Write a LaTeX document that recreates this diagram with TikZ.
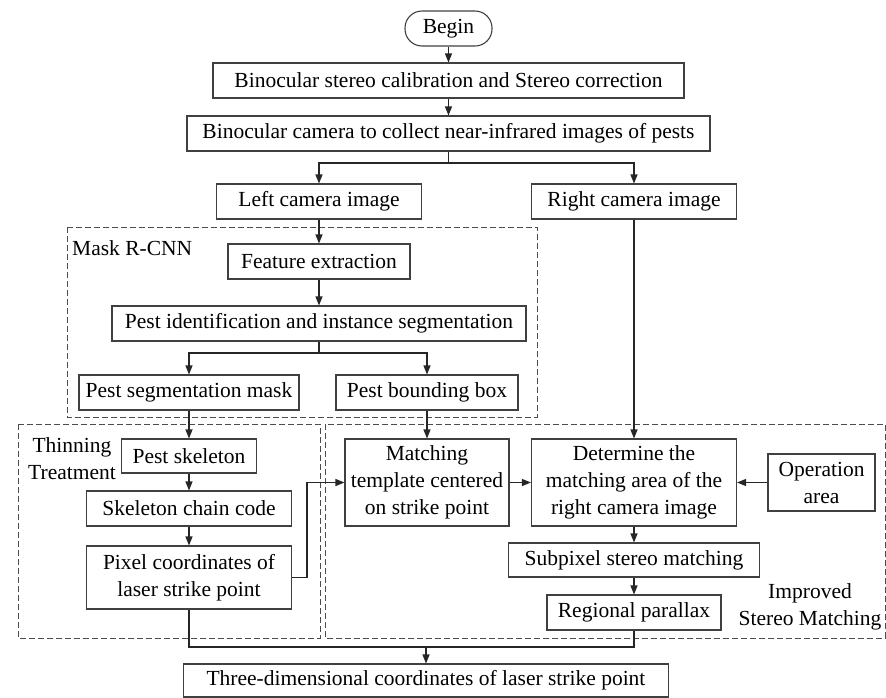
\documentclass[tikz,border=0pt]{standalone}
\usepackage{fontspec}
\setmainfont{Liberation Serif}
\usetikzlibrary{arrows.meta}
\begin{document}
\begin{tikzpicture}[x=1pt,y=-1pt,
    box/.style={draw=black!75,line width=1.1pt,inner sep=0pt,align=center,
        font=\fontsize{21.5}{27}\selectfont},
    arr/.style={-{Triangle[length=9pt,width=7pt]},line width=1.2pt,black!85},
    group/.style={draw=black!70,dash pattern=on 6pt off 3pt,line width=0.8pt},
    lbl/.style={align=center,inner sep=0pt,font=\fontsize{21.5}{27}\selectfont}]
    \useasboundingbox (0,0) rectangle (886,697);

    % Dashed groups
    \draw[group] (67,227) rectangle (537,417);
    \draw[group] (18,424) rectangle (320,638);
    \draw[group] (325,424) rectangle (885,638);
    \node[lbl,anchor=west] (masklbl) at (72,248) {Mask R-CNN};
    \node[lbl] (thinlbl) at (72,458.5) {Thinning\\Treatment};
    \node[lbl] (stereolbl) at (810,606.5) {Improved\\Stereo Matching};

    % Top chain
    \node[box,rounded corners=17pt,minimum width=87pt,minimum height=35pt] (begin) at (448.5,28.5) {Begin};
    \node[box,minimum width=471pt,minimum height=35pt] (calib) at (448.5,80.5) {Binocular stereo calibration and Stereo correction};
    \node[box,minimum width=523pt,minimum height=35pt] (collect) at (448.5,133.5) {Binocular camera to collect near-infrared images of pests};
    \node[box,minimum width=205pt,minimum height=35pt] (left) at (319,201.5) {Left camera image};
    \node[box,minimum width=205pt,minimum height=35pt] (right) at (634,201.5) {Right camera image};

    % Mask R-CNN
    \node[box,minimum width=182pt,minimum height=35pt] (feat) at (319,261.5) {Feature extraction};
    \node[box,minimum width=414pt,minimum height=35pt] (ident) at (319,323.5) {Pest identification and instance segmentation};
    \node[box,minimum width=220pt,minimum height=35pt] (segmask) at (189,392.5) {Pest segmentation mask};
    \node[box,minimum width=182pt,minimum height=35pt] (bbox) at (427,392.5) {Pest bounding box};

    % Thinning treatment
    \node[box,minimum width=135pt,minimum height=34pt] (skel) at (189,456) {Pest skeleton};
    \node[box,minimum width=205pt,minimum height=35pt] (chain) at (189,508.5) {Skeleton chain code};
    \node[box,minimum width=205pt,minimum height=63pt] (pixel) at (189,577.5) {Pixel coordinates of\\laser strike point};

    % Improved stereo matching
    \node[box,minimum width=164pt,minimum height=87pt] (match) at (427,482.5) {Matching\\template centered\\on strike point};
    \node[box,minimum width=205pt,minimum height=87pt] (determ) at (634,482.5) {Determine the\\matching area of the\\right camera image};
    \node[box,minimum width=107pt,minimum height=57pt] (oper) at (821.5,482.5) {Operation\\area};
    \node[box,minimum width=251pt,minimum height=34pt] (subpix) at (634,560) {Subpixel stereo matching};
    \node[box,minimum width=174pt,minimum height=35pt] (parallax) at (634,612.5) {Regional parallax};

    % Result
    \node[box,minimum width=485pt,minimum height=33pt] (final) at (426,680.5) {Three-dimensional coordinates of laser strike point};

    % Connectors
    \draw[arr] (begin.south) -- (calib.north);
    \draw[arr] (calib.south) -- (collect.north);
    \coordinate (split1) at (448.5,163);
    \draw[line width=1.2pt,black!85] (collect.south) -- (split1);
    \draw[arr] (split1) -| (left.north);
    \draw[arr] (split1) -| (right.north);
    \draw[arr] (left.south) -- (feat.north);
    \draw[arr] (feat.south) -- (ident.north);
    \coordinate (split2) at (319,353);
    \draw[line width=1.2pt,black!85] (ident.south) -- (split2);
    \draw[arr] (split2) -| (segmask.north);
    \draw[arr] (split2) -| (bbox.north);
    \draw[arr] (segmask.south) -- (skel.north);
    \draw[arr] (skel.south) -- (chain.north);
    \draw[arr] (chain.south) -- (pixel.north);
    \draw[arr] (bbox.south) -- (match.north);
    \draw[arr] (right.south) -- (determ.north);
    \draw[arr] (match.east) -- (determ.west);
    \draw[arr] (oper.west) -- (determ.east);
    \draw[arr] (determ.south) -- (subpix.north);
    \draw[arr] (subpix.south) -- (parallax.north);
    \coordinate (bend) at (307,577.5);
    \draw[arr] (pixel.east) -- (bend) |- (match.west);
    \coordinate (merge) at (426,647);
    \draw[line width=1.2pt,black!85] (pixel.south) |- (merge) -| (parallax.south);
    \draw[arr] (merge) -- (final.north);
\end{tikzpicture}
\end{document}
